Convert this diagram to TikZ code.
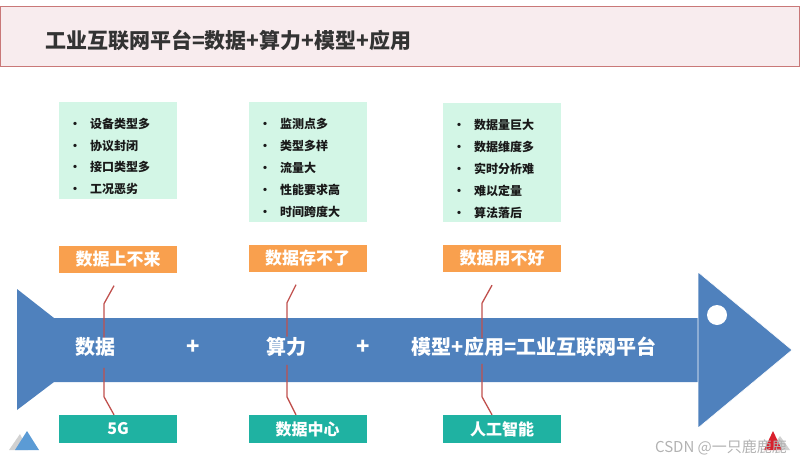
\documentclass[tikz,border=0pt]{standalone}
\usepackage{fontspec}
\setmainfont{Noto Sans CJK SC}
\usepackage{tikz}
\usetikzlibrary{positioning, calc}

\definecolor{titlefill}{HTML}{F8ECEE}
\definecolor{titleline}{HTML}{C97878}
\definecolor{mint}{HTML}{D3F6E6}
\definecolor{orangebox}{HTML}{F9A04E}
\definecolor{tealbox}{HTML}{1FB2A2}
\definecolor{arrowblue}{HTML}{4F81BD}
\definecolor{linkred}{HTML}{C0504D}
\definecolor{iconblue}{HTML}{5B9BD5}
\definecolor{iconred}{HTML}{D9202C}

\begin{document}
\begin{tikzpicture}[
    x=1pt, y=-1pt,
    titlebox/.style={rectangle, draw=titleline, line width=1pt, fill=titlefill, minimum width=799pt, minimum height=60pt, inner sep=0pt},
    listbox/.style={rectangle, fill=mint, minimum width=118pt, inner sep=0pt},
    item/.style={anchor=west, inner sep=0pt, font=\fontsize{12}{14}\selectfont\bfseries, text=black!90},
    problem/.style={rectangle, fill=orangebox, minimum width=118pt, minimum height=27pt, inner sep=0pt, text=white, font=\fontsize{17}{20}\selectfont\bfseries},
    tech/.style={rectangle, fill=tealbox, minimum width=118pt, minimum height=28pt, inner sep=0pt, text=white, font=\fontsize{16}{19}\selectfont\bfseries},
    onarrow/.style={text=white, inner sep=0pt, font=\fontsize{20}{24}\selectfont\bfseries},
    plus/.style={text=white, inner sep=0pt, font=\fontsize{22}{24}\selectfont\bfseries},
    link/.style={draw=linkred, line width=1.3pt}
]
    \useasboundingbox (0,0) rectangle (800,463);

    % title
    \node[titlebox] (title) at (400,36) {};
    \node[anchor=west, inner sep=0pt, text=black!80, font=\fontsize{21}{24}\selectfont\bfseries] (titletext) at (45,40) {工业互联网平台=数据+算力+模型+应用};

    % problem lists
    \node[listbox, minimum height=97pt] (list1) at (118,150.5) {};
    \node[listbox, minimum height=120pt] (list2) at (307.5,162) {};
    \node[listbox, minimum height=119pt] (list3) at (502,162.5) {};

    \foreach \t [count=\i] in {设备类型多,协议封闭,接口类型多,工况恶劣}
        \node[item] (a\i) at (69,{124+21.7*(\i-1)}) {\makebox[21pt][l]{•}\t};
    \foreach \t [count=\i] in {监测点多,类型多样,流量大,性能要求高,时间跨度大}
        \node[item] (b\i) at (259,{124+22*(\i-1)}) {\makebox[21pt][l]{•}\t};
    \foreach \t [count=\i] in {数据量巨大,数据维度多,实时分析难,难以定量,算法落后}
        \node[item] (c\i) at (453,{125+22*(\i-1)}) {\makebox[21pt][l]{•}\t};

    \node[problem] (prob1) at (118,259) {数据上不来};
    \node[problem] (prob2) at (307.5,258) {数据存不了};
    \node[problem] (prob3) at (502,258.5) {数据用不好};

    % big arrow
    \fill[arrowblue] (17,289) -- (54,318) -- (699,318) -- (699,382) -- (54,382) -- (17,410) -- cycle;
    \filldraw[fill=arrowblue, draw=white, line width=0.6pt] (698,272) -- (792,350) -- (698,428) -- cycle;
    \fill[white] (717,315) circle (10);

    % links
    \draw[link] ($(prob1.south)+(-4,13)$) -- ++(-10,18) -- ++(0,35);
    \draw[link] ($(prob2.south)+(-11.5,13)$) -- ++(-9,18) -- ++(0,34);
    \draw[link] ($(prob3.south)+(-10,13)$) -- ++(-10,18) -- ++(0,35);

    \node[tech] (tech1) at (118,429) {5G};
    \node[tech] (tech2) at (307.5,429) {数据中心};
    \node[tech] (tech3) at (502,429) {人工智能};

    \draw[link] ($(tech1.north)+(-4,0)$) -- ++(-10,-18) -- ++(0,-29);
    \draw[link] ($(tech2.north)+(-11.5,0)$) -- ++(-9,-18) -- ++(0,-32);
    \draw[link] ($(tech3.north)+(-10,0)$) -- ++(-10,-18) -- ++(0,-33);

    \node[onarrow] (data) at (95,347) {数据};
    \node[plus] (plus1) at (193,347) {+};
    \node[onarrow] (compute) at (286,347) {算力};
    \node[plus] (plus2) at (363,347) {+};
    \node[onarrow] (result) at (534,347) {模型+应用=工业互联网平台};

    % corner marks
    \fill[black!18] (9,450) -- (20,434) -- (28,450) -- cycle;
    \fill[iconblue] (15,450) -- (27,431) -- (39,450) -- cycle;
    \fill[black!18] (770,450) -- (780,436) -- (790,450) -- cycle;
    \fill[iconred] (764,450) -- (773,431) -- (782,450) -- cycle;
    \node[text=black!30, inner sep=0pt, font=\fontsize{15}{18}\selectfont] (mark) at (721,447) {CSDN @一只鹿鹿鹿};
\end{tikzpicture}
\end{document}
